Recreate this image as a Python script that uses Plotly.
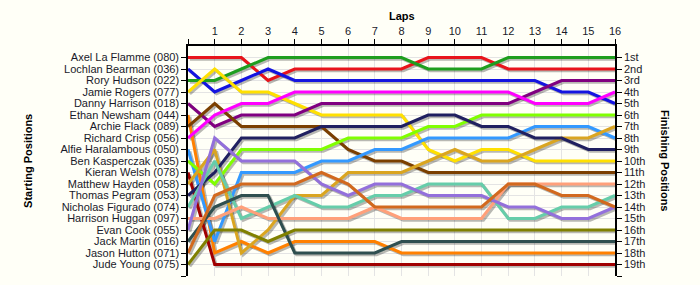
import plotly.graph_objects as go

laps = list(range(0, 17))
lap_labels = [""] + [str(i) for i in range(1, 17)]

drivers = [
    "Axel La Flamme (080)", "Lochlan Bearman (036)", "Rory Hudson (022)",
    "Jamie Rogers (077)", "Danny Harrison (018)", "Ethan Newsham (044)",
    "Archie Flack (089)", "Richard Crisp (056)", "Alfie Haralambous (050)",
    "Ben Kasperczak (035)", "Kieran Welsh (078)", "Matthew Hayden (058)",
    "Thomas Pegram (053)", "Nicholas Figurado (074)", "Harrison Huggan (097)",
    "Evan Cook (055)", "Jack Martin (016)", "Jason Hutton (071)", "Jude Young (075)",
]

finish_labels = ["1st", "2nd", "3rd", "4th", "5th", "6th", "7th", "8th", "9th", "10th",
                 "11th", "12th", "13th", "14th", "15th", "16th", "17th", "18th", "19th"]

axel = [1, 1, 1, 3, 2, 2, 2, 2, 2, 1, 1, 1, 2, 2, 2, 2, 2]
lochlan = [2, 4, 3, 2, 3, 3, 3, 3, 3, 3, 3, 3, 3, 3, 4, 4, 5]
rory = [3, 3, 2, 1, 1, 1, 1, 1, 1, 2, 2, 2, 1, 1, 1, 1, 1]
jamie = [4, 2, 4, 4, 5, 6, 6, 6, 6, 9, 10, 9, 9, 10, 10, 10, 10]
danny = [5, 7, 6, 6, 6, 5, 5, 5, 5, 5, 5, 5, 5, 4, 3, 3, 3]
ethan = [6, 18, 17, 18, 17, 17, 17, 17, 18, 18, 18, 18, 18, 18, 18, 18, 18]
archie = [7, 5, 7, 7, 7, 7, 9, 10, 10, 11, 11, 11, 11, 11, 11, 11, 11]
richard = [8, 6, 5, 5, 4, 4, 4, 4, 4, 4, 4, 4, 4, 5, 5, 5, 4]
alfie = [9, 17, 11, 11, 11, 10, 10, 9, 9, 8, 8, 8, 8, 7, 7, 7, 8]
ben = [10, 12, 9, 9, 9, 9, 8, 8, 8, 7, 7, 6, 6, 6, 6, 6, 6]
kieran = [11, 19, 19, 19, 19, 19, 19, 19, 19, 19, 19, 19, 19, 19, 19, 19, 19]
matthew = [12, 9, 18, 16, 13, 13, 11, 11, 11, 10, 9, 10, 10, 9, 8, 8, 7]
thomas = [13, 11, 8, 8, 8, 7, 7, 7, 7, 6, 6, 7, 7, 8, 8, 9, 9]
nicholas = [14, 10, 15, 14, 13, 14, 14, 13, 13, 12, 12, 12, 15, 15, 14, 14, 13]
harrison = [15, 15, 14, 15, 15, 15, 15, 14, 15, 15, 15, 15, 12, 12, 12, 12, 12]
evan = [16, 8, 10, 10, 10, 12, 13, 12, 12, 13, 13, 13, 14, 14, 15, 15, 14]
jack = [17, 14, 13, 13, 18, 18, 18, 18, 17, 17, 17, 17, 17, 17, 17, 17, 17]
jason = [18, 13, 12, 12, 12, 11, 12, 14, 14, 14, 14, 14, 12, 12, 13, 13, 14]
jude = [19, 16, 16, 17, 16, 16, 16, 16, 16, 16, 16, 16, 16, 16, 16, 16, 16]

series = [axel, lochlan, rory, jamie, danny, ethan, archie, richard, alfie, ben,
          kieran, matthew, thomas, nicholas, harrison, evan, jack, jason, jude]

colors = ["#E8141B", "#1414E0", "#1E9E1E", "#FFE000", "#800080", "#FF8000",
          "#7B3F00", "#FF00FF", "#3399FF", "#80FF00", "#A00000", "#DAA520",
          "#202060", "#66CDAA", "#FFA07A", "#9370DB", "#2F4F4F", "#D2691E", "#808000"]

fig = go.Figure()

# shadows
sdx, sdy = 0.07, 0.16
for name, pos in zip(drivers, series):
    fig.add_trace(go.Scatter(
        x=[l + sdx for l in laps], y=[p + sdy for p in pos], mode="lines",
        line=dict(color="rgba(0,0,0,0.28)", width=3),
        hoverinfo="skip", showlegend=False))

for name, pos, c in zip(drivers, series, colors):
    fig.add_trace(go.Scatter(
        x=laps, y=pos, mode="lines", name=name,
        line=dict(color=c, width=3), showlegend=False))

# invisible trace on the right axis
fig.add_trace(go.Scatter(
    x=[16] * len(series), y=[s[-1] for s in series], yaxis="y2", mode="markers",
    marker=dict(opacity=0), hoverinfo="skip", showlegend=False))

font = dict(family="Liberation Sans, Arial, sans-serif", size=11, color="#1a1a2a")
bg = "#FFFFF7"
grid = "#E4E4E4"

fig.update_layout(
    width=700, height=285,
    margin=dict(l=188, r=85, t=46, b=9),
    paper_bgcolor=bg, plot_bgcolor=bg,
    font=font,
    xaxis=dict(
        range=[0, 16], side="top", tickmode="array", tickvals=laps, ticktext=lap_labels,
        showgrid=True, gridcolor=grid, gridwidth=1, zeroline=False,
        showline=True, linecolor="black", linewidth=1.5,
        ticks="outside", ticklen=5, tickcolor="black", tickfont=font, fixedrange=True),
    yaxis=dict(
        range=[20, 0], tickmode="array", tickvals=list(range(1, 21)),
        ticktext=drivers + [""], showgrid=True, gridcolor=grid, gridwidth=1,
        zeroline=False, showline=True, linecolor="black", linewidth=1.5,
        ticks="outside", ticklen=5, tickcolor="black", tickfont=font, fixedrange=True),
    yaxis2=dict(
        range=[20, 0], overlaying="y", side="right", tickmode="array",
        tickvals=list(range(1, 21)), ticktext=finish_labels + [""],
        showgrid=False, zeroline=False, showline=True, linecolor="black", linewidth=1.5,
        ticks="outside", ticklen=5, tickcolor="black", tickfont=font, fixedrange=True),
)

title_font = dict(family="Liberation Sans, Arial, sans-serif", size=11, color="black")
fig.add_annotation(text="<b>Laps</b>", xref="paper", yref="paper", x=0.5, y=1.13,
                   showarrow=False, font=title_font, xanchor="center", yanchor="middle")
fig.add_annotation(text="<b>Starting Positions</b>", xref="paper", yref="paper",
                   x=-0.375, y=0.5, showarrow=False, font=title_font, textangle=-90,
                   xanchor="center", yanchor="middle")
fig.add_annotation(text="<b>Finishing Positions</b>", xref="paper", yref="paper",
                   x=1.117, y=0.5, showarrow=False, font=title_font, textangle=90,
                   xanchor="center", yanchor="middle")

fig.write_html("out.html")
